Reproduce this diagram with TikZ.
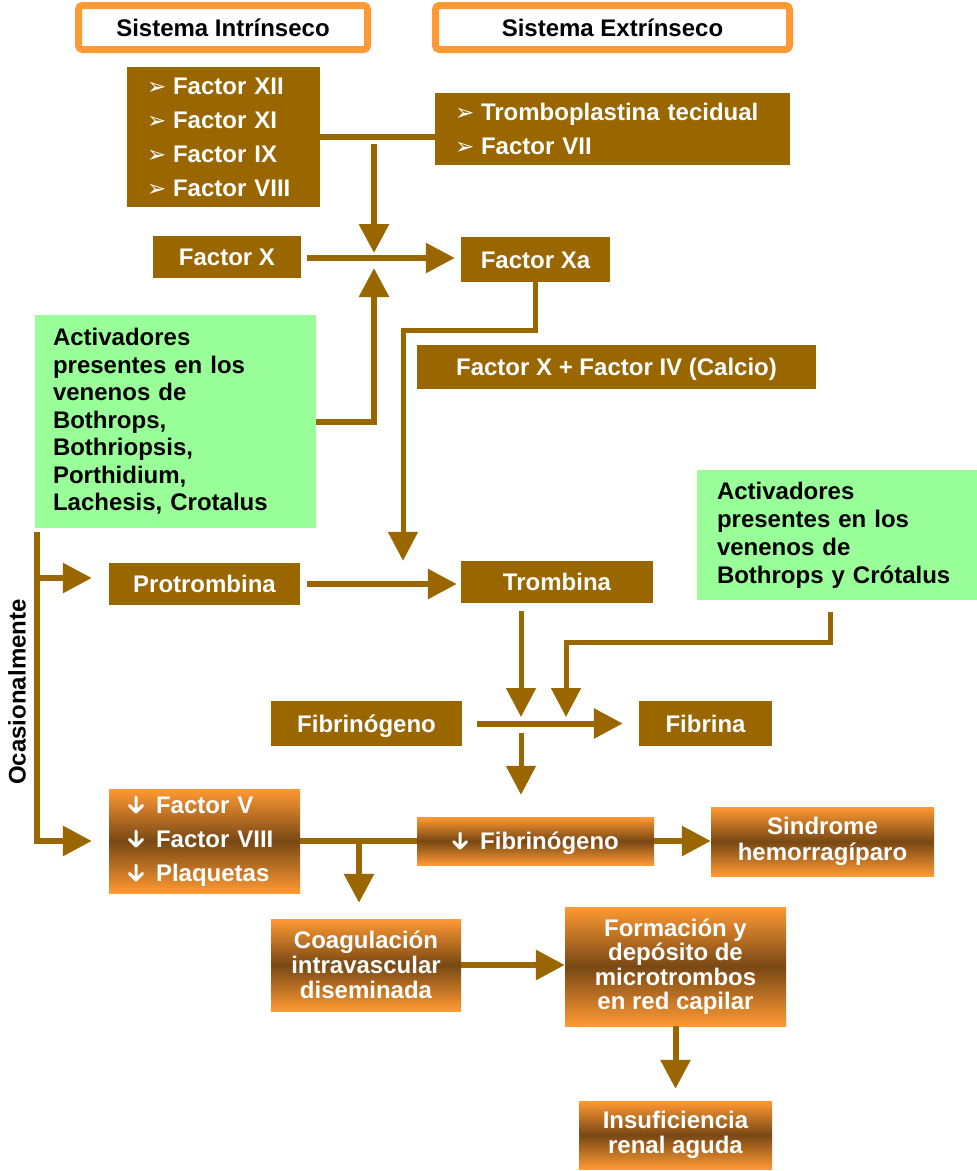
\documentclass[tikz,border=0pt]{standalone}
\usepackage{fontspec}
\setmainfont{Liberation Sans}
\newfontfamily\dingfont{DejaVu Sans}
\usetikzlibrary{arrows.meta}

\definecolor{brownC}{HTML}{996600}
\definecolor{greenC}{HTML}{99FF99}
\definecolor{orangeC}{HTML}{FF9933}
\definecolor{darkC}{HTML}{784814}

% list markers
\newcommand\bul{\makebox[26pt][l]{\dingfont\fontsize{23}{23}\selectfont ➢}}
\newcommand\dn{\makebox[28pt][l]{\tikz[baseline=0pt,x=1pt,y=1pt]{%
  \draw[white,line width=3pt,line cap=round,line join=round]
    (8,16.5) -- (8,1.5) (1.5,8) -- (8,1.5) -- (14.5,8);}}}

\tikzset{
  base/.style={inner sep=0pt, anchor=center, font=\fontsize{24}{34}\selectfont\bfseries},
  oneline/.style={text height=17.2pt, text depth=0pt},
  brownbox/.style={base, fill=brownC, text=white},
  greenbox/.style={base, fill=greenC, text=black, align=left},
  gradbox/.style={base, top color=orangeC, bottom color=orangeC, middle color=darkC, text=white},
  sysbox/.style={base, oneline, draw=orangeC, line width=7pt, rounded corners=4pt, fill=white, text=black},
  conn/.style={draw=brownC, line width=6pt},
  arr/.style={conn, -{Triangle[length=29pt,width=29pt]}},
  arrthin/.style={draw=brownC, line width=5pt, -{Triangle[length=29pt,width=29pt]}},
}

\begin{document}
\begin{tikzpicture}[x=1pt,y=-1pt]
\useasboundingbox (0,0) rectangle (977,1171);

% ---- headers
\node[sysbox, minimum width=289, minimum height=44] (sysI) at (223,27.5) {Sistema Intrínseco};
\node[sysbox, minimum width=354, minimum height=44] (sysE) at (612.5,27.5) {Sistema Extrínseco};

% ---- factor lists
\node[brownbox, align=left, text width=153, inner xsep=20, minimum height=140] (intr) at (223.5,137)
  {\bul Factor XII\\ \bul Factor XI\\ \bul Factor IX\\ \bul Factor VIII};
\node[brownbox, align=left, text width=315, inner xsep=20, minimum height=72] (extr) at (612.5,129)
  {\bul Tromboplastina tecidual\\ \bul Factor VII};

\node[brownbox, oneline, minimum width=148, minimum height=42] (fx) at (227,257) {Factor X};
\node[brownbox, oneline, minimum width=149, minimum height=45] (fxa) at (535.5,259.5) {Factor Xa};

\node[greenbox, text width=245, inner xsep=18, minimum height=213, font=\fontsize{24}{27.5}\selectfont\bfseries] (act1) at (175.5,421.5)
  {Activadores\\ presentes en los\\ venenos de\\ Bothrops,\\ Bothriopsis,\\ Porthidium,\\ Lachesis, Crotalus};

\node[brownbox, oneline, minimum width=399, minimum height=44] (fxiv) at (616.5,367) {Factor X + Factor IV (Calcio)};

\node[brownbox, oneline, minimum width=191, minimum height=42] (prot) at (204.5,584) {Protrombina};
\node[brownbox, oneline, minimum width=192, minimum height=42] (tromb) at (557,582) {Trombina};

\node[greenbox, text width=240, inner xsep=20, minimum height=130, font=\fontsize{24}{28}\selectfont\bfseries] (act2) at (837,535)
  {Activadores\\ presentes en los\\ venenos de\\ Bothrops y Crótalus};

\node[brownbox, oneline, minimum width=191, minimum height=45] (fibg) at (366.5,723.5) {Fibrinógeno};
\node[brownbox, oneline, minimum width=133, minimum height=45] (fibr) at (705.5,723.5) {Fibrina};

% ---- consequences
\node[gradbox, align=left, text width=153, inner xsep=19, minimum height=104] (fv) at (204.5,841)
  {\dn Factor V\\ \dn Factor VIII\\ \dn Plaquetas};
\node[gradbox, oneline, minimum width=237, minimum height=48] (dfib) at (535.5,841) {\dn Fibrinógeno};
\node[gradbox, align=center, minimum width=223, minimum height=69, font=\fontsize{24}{26}\selectfont\bfseries] (sind) at (822.5,841.5)
  {Sindrome\\ hemorragíparo};
\node[gradbox, align=center, minimum width=190, minimum height=92, font=\fontsize{24}{25}\selectfont\bfseries] (cid) at (366,965)
  {Coagulación\\ intravascular\\ diseminada};
\node[gradbox, align=center, minimum width=221, minimum height=119, font=\fontsize{24}{24.5}\selectfont\bfseries] (form) at (675.5,966.5)
  {Formación y\\ depósito de\\ microtrombos\\ en red capilar};
\node[gradbox, align=center, minimum width=193, minimum height=68, font=\fontsize{24}{25}\selectfont\bfseries] (ira) at (675.5,1135)
  {Insuficiencia\\ renal aguda};

\node[base, rotate=90, text=black] (ocas) at (17,692) {Ocasionalmente};

% ---- junction points
\coordinate (jx) at (374,258);
\coordinate (vtop) at (374,144);
\coordinate (k1) at (403,330);
\coordinate (jf) at (521,724);
\coordinate (k2) at (566,642);
\coordinate (a2x) at (830,0);
\coordinate (b0) at (37,532);
\coordinate (b1) at (37,578);
\coordinate (jc) at (359,841);

% ---- activation of factor X
\draw[conn] (intr.east) -- (intr.east -| extr.west);
\draw[arr, shorten >=5] (vtop) -- (jx);
\draw[arr, shorten >=10] (act1.east) -| (jx);
\draw[arr, shorten <=6, shorten >=6] (fx.east |- jx) -- (fxa.west |- jx);

% ---- prothrombin to thrombin
\draw[arrthin] (fxa.south) |- (k1) -- (k1 |- tromb.north);
\draw[arr, shorten <=7, shorten >=4] (prot.east) -- (prot.east -| tromb.west);

% ---- fibrinogen to fibrin
\draw[arrthin, shorten <=12, shorten >=7] (act2.south -| a2x) |- (k2) -- (k2 |- jf);
\draw[arrthin, shorten <=8, shorten >=7] (tromb.south -| jf) -- (jf);
\draw[arr, shorten <=15, shorten >=16] (fibg.east) -- (fibr.west);
\draw[arrthin, shorten <=9, shorten >=22] (jf) -- (jf |- dfib.north);

% ---- occasional branch
\draw[arr, shorten >=17] (b0) |- (fv.west);
\draw[arr, shorten >=17] (b1) -- (b1 -| prot.west);

% ---- consequences
\draw[conn] (fv.east) -- (dfib.west);
\draw[arr, shorten >=16] (jc) -- (jc |- cid.north);
\draw[arr] (dfib.east) -- (dfib.east -| sind.west);
\draw[arr] (cid.east) -- (cid.east -| form.west);
\draw[arr, shorten >=12] (form.south) -- (ira.north);
\end{tikzpicture}
\end{document}
